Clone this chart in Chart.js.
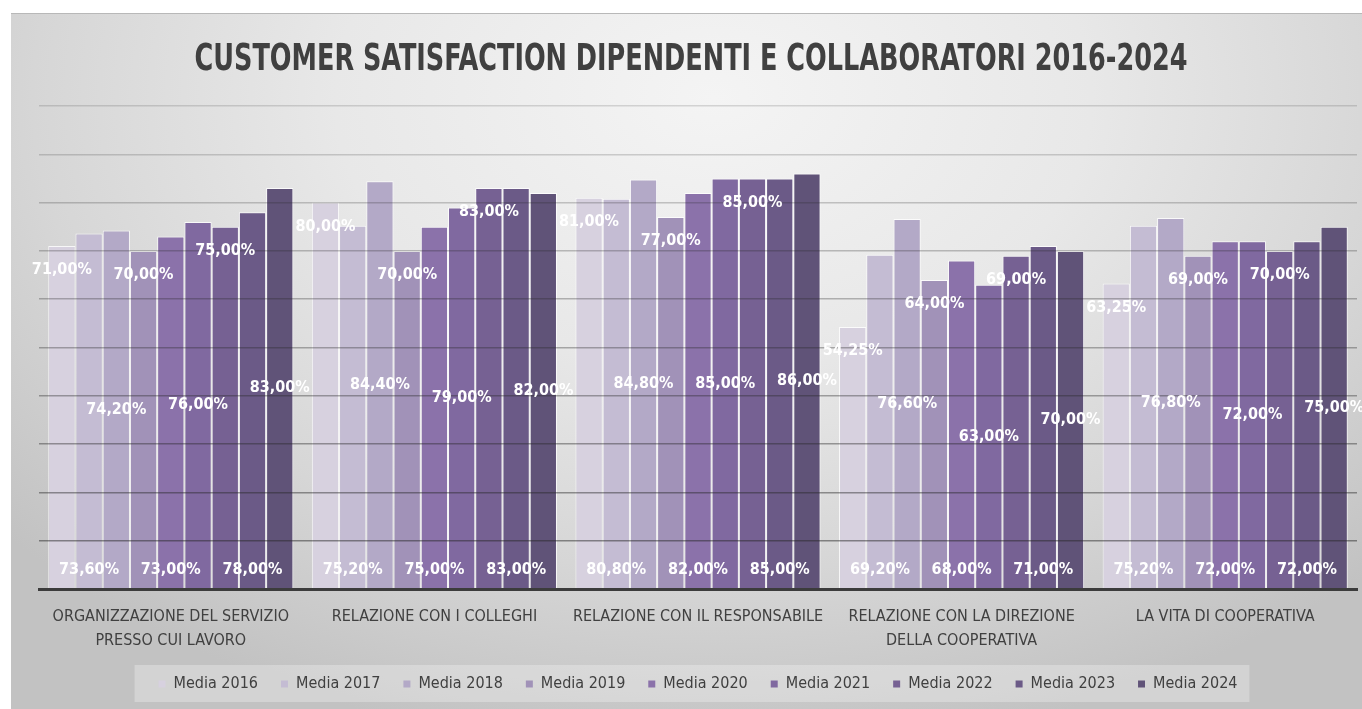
<!DOCTYPE html>
<html>
<head>
<meta charset="utf-8">
<script src="https://cdn.jsdelivr.net/npm/chart.js@4/dist/chart.umd.min.js"></script>
<style>
    body { margin: 0; background: #ffffff; }
    #frame {
        position: absolute;
        left: 11px;
        top: 13px;
        width: 1351px;
        height: 696px;
        border-top: 1px solid #b8b8b8;
        box-sizing: border-box;
        background: radial-gradient(ellipse 70% 95% at 52% 12%, #f4f4f4 0%, #e8e8e8 40%, #d6d6d6 72%, #c2c2c2 100%);
    }
    #frame canvas { position: absolute; left: 0; top: -1px; }
</style>
</head>
<body>
<div id="frame"><canvas id="satisfactionChart" width="1351" height="696"></canvas></div>
<script>
// chart data
const chartTitle = "CUSTOMER SATISFACTION DIPENDENTI E COLLABORATORI 2016-2024";
const categories = [
    ["ORGANIZZAZIONE DEL SERVIZIO", "PRESSO CUI LAVORO"],
    "RELAZIONE CON I COLLEGHI",
    "RELAZIONE CON IL RESPONSABILE",
    ["RELAZIONE CON LA DIREZIONE", "DELLA COOPERATIVA"],
    "LA VITA DI COOPERATIVA",
];
const seriesNames = ["Media 2016", "Media 2017", "Media 2018", "Media 2019", "Media 2020", "Media 2021", "Media 2022", "Media 2023", "Media 2024"];

const media2016 = [71.0, 80.0, 81.0, 54.25, 63.25];
const media2017 = [73.6, 75.2, 80.8, 69.2, 75.2];
const media2018 = [74.2, 84.4, 84.8, 76.6, 76.8];
const media2019 = [70.0, 70.0, 77.0, 64.0, 69.0];
const media2020 = [73.0, 75.0, 82.0, 68.0, 72.0];
const media2021 = [76.0, 79.0, 85.0, 63.0, 72.0];
const media2022 = [75.0, 83.0, 85.0, 69.0, 70.0];
const media2023 = [78.0, 83.0, 85.0, 71.0, 72.0];
const media2024 = [83.0, 82.0, 86.0, 70.0, 75.0];

const yTicks = [0, 10, 20, 30, 40, 50, 60, 70, 80, 90, 100];

const allSeries = [media2016, media2017, media2018, media2019, media2020, media2021, media2022, media2023, media2024];
const barColors = ["#d7d1df", "#c4bcd3", "#b3a9c7", "#a192b8", "#8b72aa", "#8069a0", "#766193", "#6b5a87", "#605378"];

const FONT = '"Liberation Sans Narrow", "DejaVu Sans Condensed", "Liberation Sans", sans-serif';

function formatValue(v) {
    return v.toFixed(2).replace(".", ",") + "%";
}

// title, legend background and the staggered value labels
const decorPlugin = {
    id: "decor",
    beforeDraw(chart) {
        const ctx = chart.ctx;
        const legend = chart.legend;
        if (legend && legend.legendHitBoxes.length) {
            const boxes = legend.legendHitBoxes;
            const first = boxes[0];
            const last = boxes[boxes.length - 1];
            const cy = first.top + first.height / 2;
            ctx.save();
            ctx.fillStyle = "rgba(255,255,255,0.28)";
            ctx.fillRect(first.left - 24, cy - 19, last.left + last.width - first.left + 36, 37);
            ctx.restore();
        }
    },
    afterDraw(chart) {
        const ctx = chart.ctx;
        ctx.save();
        ctx.fillStyle = "#404040";
        ctx.font = "bold 37px " + FONT;
        ctx.textAlign = "center";
        ctx.textBaseline = "middle";
        ctx.fillText(chartTitle, 680, 47, 993);

        ctx.font = "bold 16px " + FONT;
        ctx.fillStyle = "#ffffff";
        chart.data.datasets.forEach(function (ds, i) {
            const meta = chart.getDatasetMeta(i);
            meta.data.forEach(function (bar, j) {
                let y;
                if (i % 3 === 0) {
                    y = bar.y + 24;
                } else if (i % 3 === 1) {
                    y = bar.base - 18;
                } else {
                    y = (bar.y + bar.base) / 2;
                }
                ctx.fillText(formatValue(ds.data[j]), bar.x, y);
            });
        });
        ctx.restore();
    },
};

const ctx = document.getElementById("satisfactionChart").getContext("2d");
const chart = new Chart(ctx, {
    type: "bar",
    data: {
        labels: categories,
        datasets: seriesNames.map(function (name, i) {
            return {
                label: name,
                data: allSeries[i],
                backgroundColor: barColors[i],
                borderColor: "rgba(255,255,255,0.8)",
                borderWidth: 1,
                barPercentage: 1.0,
                categoryPercentage: 0.93,
            };
        }),
    },
    options: {
        responsive: false,
        animation: false,
        layout: {
            padding: { top: 93, left: 28, right: 5, bottom: 7 },
        },
        plugins: {
            title: { display: false },
            tooltip: { enabled: false },
            legend: {
                position: "bottom",
                labels: {
                    boxWidth: 7,
                    boxHeight: 7,
                    padding: 23,
                    color: "#404040",
                    font: { family: FONT, size: 16 },
                    generateLabels: function (chart) {
                        const items = Chart.defaults.plugins.legend.labels.generateLabels(chart);
                        items.forEach(function (item) {
                            item.lineWidth = 0;
                            item.strokeStyle = "rgba(0,0,0,0)";
                        });
                        return items;
                    },
                },
            },
        },
        scales: {
            x: {
                grid: { display: false, drawTicks: false },
                border: { display: true, color: "#3c3c3c", width: 3, z: 1 },
                ticks: {
                    color: "#404040",
                    font: { family: FONT, size: 16, lineHeight: 1.5 },
                    padding: 16,
                    maxRotation: 0,
                    autoSkip: false,
                },
                afterFit: function (scale) {
                    scale.height = 64;
                },
            },
            y: {
                min: yTicks[0],
                max: yTicks[yTicks.length - 1],
                afterBuildTicks: function (scale) {
                    scale.ticks = yTicks.map(function (v) {
                        return { value: v };
                    });
                },
                ticks: { display: false },
                border: { display: false },
                grid: {
                    drawTicks: false,
                    z: 1,
                    lineWidth: 1.5,
                    color: function (c) {
                        const v = c.tick ? c.tick.value : 0;
                        if (v === 0) return "rgba(0,0,0,0)";
                        const a = 0.16 + ((100 - v) / 90) * 0.34;
                        return "rgba(40,40,40," + a.toFixed(3) + ")";
                    },
                },
            },
        },
    },
    plugins: [decorPlugin],
});
</script>
</body>
</html>
